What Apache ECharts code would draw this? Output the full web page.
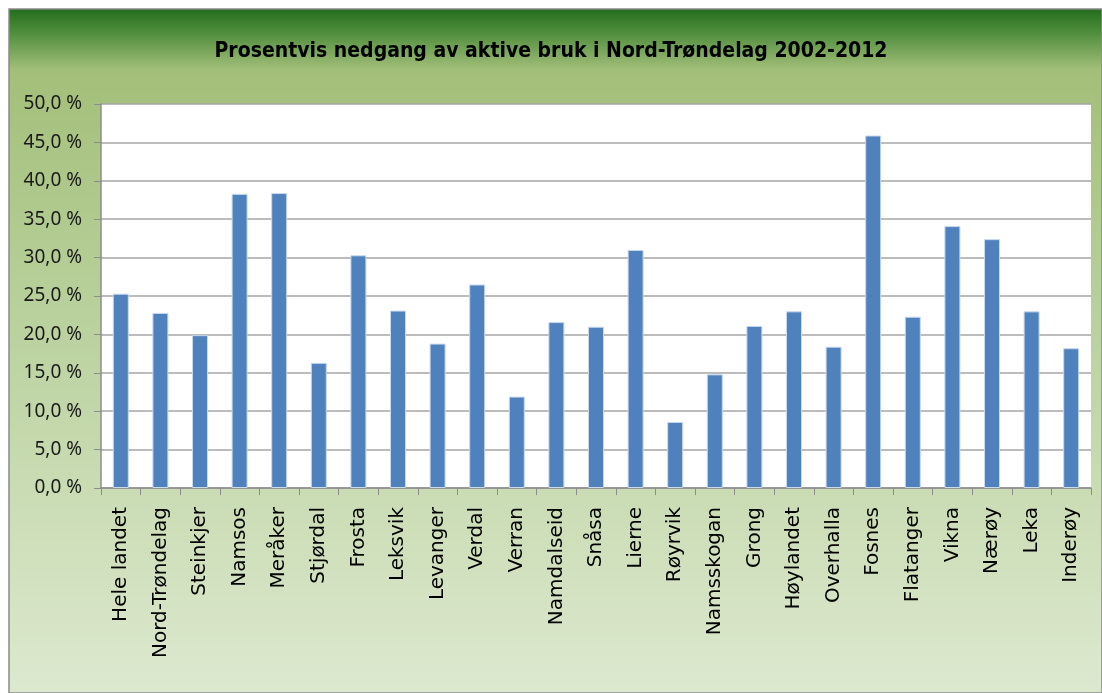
<!DOCTYPE html>
<html>
<head>
<meta charset="utf-8">
<script src="https://cdn.jsdelivr.net/npm/echarts@6/dist/echarts.min.js"></script>
<style>html,body{margin:0;padding:0;background:#fff;}#c{width:1102px;height:693px;}</style>
</head>
<body>
<div id="c"></div>
<script>
const titleText = 'Prosentvis nedgang av aktive bruk i Nord-Trøndelag 2002-2012';
const categories = ['Hele landet','Nord-Trøndelag','Steinkjer','Namsos','Meråker','Stjørdal','Frosta','Leksvik','Levanger','Verdal','Verran','Namdalseid','Snåsa','Lierne','Røyrvik','Namsskogan','Grong','Høylandet','Overhalla','Fosnes','Flatanger','Vikna','Nærøy','Leka','Inderøy'];
const values = [25.3,22.8,19.9,38.3,38.4,16.3,30.3,23.1,18.8,26.5,11.9,21.6,21.0,31.0,8.6,14.8,21.1,23.0,18.4,45.9,22.3,34.1,32.4,23.0,18.2];
const yTicks = {min: 0, max: 50, interval: 5};

const chart = echarts.init(document.getElementById('c'));
chart.setOption({
  animation: false,
  graphic: [{
    type: 'rect', z: -10, silent: true,
    shape: {x: 9, y: 9, width: 1093, height: 684},
    style: {
      fill: new echarts.graphic.LinearGradient(0, 0, 0, 1, [
        {offset: 0, color: '#226d1c'},
        {offset: 0.035, color: '#4f8d3c'},
        {offset: 0.09, color: '#a3bf79'},
        {offset: 0.45, color: '#b9d19d'},
        {offset: 1, color: '#dde9cf'}
      ]),
      stroke: '#8a8a8a', lineWidth: 1.5
    }
  }],
  title: {
    text: titleText, left: 'center', top: 36,
    textStyle: {fontFamily: 'DejaVu Sans Condensed', fontWeight: 'bold', fontSize: 21, color: '#000'}
  },
  grid: {left: 101, top: 104, right: 11, bottom: 205, show: true, backgroundColor: '#ffffff', borderWidth: 0},
  xAxis: {
    type: 'category', data: categories,
    axisLine: {lineStyle: {color: '#8c8c8c', width: 1.5}},
    axisTick: {show: true, alignWithLabel: false, length: 7, lineStyle: {color: '#8c8c8c'}},
    axisLabel: {rotate: 90, interval: 0, margin: 19, color: '#000', fontFamily: 'DejaVu Sans', fontSize: 20}
  },
  yAxis: {
    type: 'value', min: yTicks.min, max: yTicks.max, interval: yTicks.interval,
    axisLine: {show: true, lineStyle: {color: '#8c8c8c', width: 1.5}},
    axisTick: {show: true, length: 7, lineStyle: {color: '#8c8c8c'}},
    splitLine: {lineStyle: {color: '#a6a6a6', width: 1.5}},
    axisLabel: {
      color: '#1a1a1a', fontFamily: 'Noto Sans', fontSize: 19, margin: 19,
      formatter: v => v.toFixed(1).replace('.', ',') + ' %'
    }
  },
  series: [{
    type: 'bar', data: values, barWidth: 16,
    itemStyle: {color: '#4f81bd', borderColor: '#c9d9ee', borderWidth: 1}
  }]
});
</script>
</body>
</html>
